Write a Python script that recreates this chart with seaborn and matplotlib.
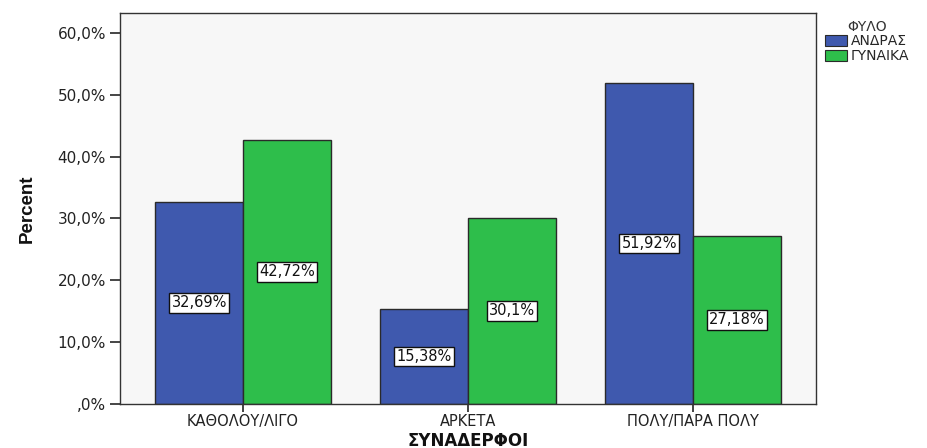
import matplotlib
matplotlib.use("Agg")
import matplotlib.pyplot as plt
import seaborn as sns
import pandas as pd

categories = ["ΚΑΘΟΛΟΥ/ΛΙΓΟ", "ΑΡΚΕΤΑ", "ΠΟΛΥ/ΠΑΡΑ ΠΟΛΥ"]
groups = ["ΑΝΔΡΑΣ", "ΓΥΝΑΙΚΑ"]
men_values = [32.69, 15.38, 51.92]
women_values = [42.72, 30.10, 27.18]
ytick_values = [0, 10, 20, 30, 40, 50, 60]
ytick_labels = [",0%", "10,0%", "20,0%", "30,0%", "40,0%", "50,0%", "60,0%"]
colors = ["#3F59AE", "#2EBE4B"]

df = pd.DataFrame({
    "ΣΥΝΑΔΕΡΦΟΙ": categories * 2,
    "Percent": men_values + women_values,
    "ΦΥΛΟ": [groups[0]] * 3 + [groups[1]] * 3,
})

sns.set_style("white")
plt.rcParams["font.family"] = ["DejaVu Sans"]

fig = plt.figure(figsize=(9.27, 4.48), dpi=100)
ax = fig.add_axes([120/927, 1-404/448, (816-120)/927, (404-13)/448])
ax.set_facecolor("#F7F7F7")

sns.barplot(data=df, x="ΣΥΝΑΔΕΡΦΟΙ", y="Percent", hue="ΦΥΛΟ",
            order=categories, hue_order=groups, palette=colors,
            width=0.78, edgecolor="#2A2A2A", linewidth=1.0, ax=ax,
            errorbar=None, saturation=1)

def fmt(v):
    s = f"{v:.2f}".rstrip("0").rstrip(".")
    return s.replace(".", ",") + "%"

for cont in ax.containers:
    labels = [fmt(b.get_height()) for b in cont]
    ax.bar_label(cont, labels=labels, label_type="center", fontsize=10.5,
                 color="#111111",
                 bbox=dict(boxstyle="square,pad=0.15", facecolor="white",
                           edgecolor="#111111", linewidth=1.0))

ax.set_xlim(-0.547, 2.547)
ax.set_ylim(0, 63.2)
ax.set_yticks(ytick_values)
ax.set_yticklabels(ytick_labels, fontsize=11, color="#222222")
ax.tick_params(axis="x", labelsize=10.5, colors="#222222", length=6, width=1.2,
               direction="out", bottom=True, pad=1)
ax.tick_params(axis="y", length=7, width=1.2, direction="out", left=True,
               pad=3)
for lbl in ax.get_xticklabels():
    lbl.set_color("#222222")

for sp in ax.spines.values():
    sp.set_color("#333333")
    sp.set_linewidth(1.0)

ax.set_xlabel("ΣΥΝΑΔΕΡΦΟΙ", fontsize=12, fontweight="bold", color="#111111",
              labelpad=2)
ax.set_ylabel("Percent", fontsize=13.5, fontweight="bold", color="#111111",
              family=["Liberation Sans Narrow", "Liberation Sans", "DejaVu Sans"],
              labelpad=16)

ax.get_legend().remove()
handles = [plt.Rectangle((0, 0), 1, 1, facecolor=c, edgecolor="#2A2A2A",
                         linewidth=0.8) for c in colors]
leg = fig.legend(handles, groups, title="ΦΥΛΟ", loc="upper left",
                 bbox_to_anchor=(815/927, 1-10/448), frameon=False,
                 fontsize=10, title_fontsize=10, handlelength=1.6,
                 handleheight=0.8, handletextpad=0.25, labelspacing=0.05,
                 borderpad=0.2)
leg.get_title().set_color("#333333")

fig.savefig("out.png", dpi=100, facecolor="white")
